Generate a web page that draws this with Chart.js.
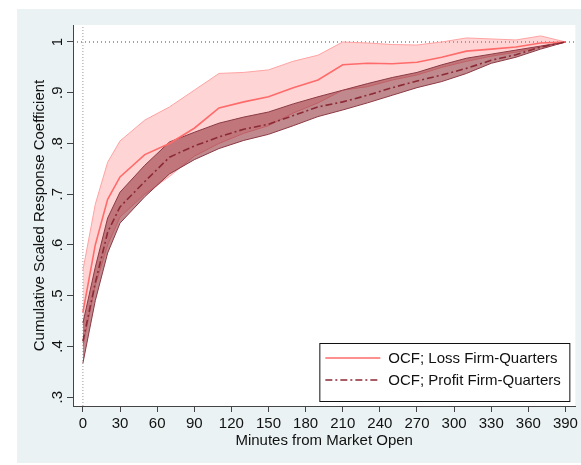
<!DOCTYPE html>
<html>
<head>
<meta charset="utf-8">
<script src="https://cdn.jsdelivr.net/npm/chart.js@4.4.1/dist/chart.umd.min.js"></script>
<style>
  body { margin: 0; background: #fff; }
  canvas { display: block; }
</style>
</head>
<body>
<canvas id="crcChart" width="581" height="465"></canvas>
<script>
// Minutes after the open at which the coefficient was estimated
const minutes = [0, 10, 20, 30, 50, 70, 90, 110, 130, 150, 170, 190, 210, 230, 250, 270, 290, 310, 330, 350, 370, 390];

// Loss firm-quarters: estimate and confidence band
const lossEst = [0.467, 0.600, 0.690, 0.734, 0.778, 0.800, 0.830, 0.870, 0.882, 0.892, 0.910, 0.925, 0.955, 0.958, 0.957, 0.960, 0.970, 0.982, 0.986, 0.990, 0.998, 1.000];
const lossHi  = [0.550, 0.680, 0.763, 0.805, 0.846, 0.872, 0.905, 0.938, 0.940, 0.945, 0.962, 0.974, 1.000, 0.998, 0.995, 0.994, 1.000, 1.008, 1.006, 1.004, 1.012, 1.000];
const lossLo  = [0.400, 0.520, 0.600, 0.655, 0.700, 0.735, 0.775, 0.800, 0.820, 0.835, 0.860, 0.880, 0.905, 0.912, 0.925, 0.935, 0.950, 0.962, 0.972, 0.980, 0.990, 1.000];

// Profit firm-quarters: estimate and confidence band
const profitEst = [0.410, 0.525, 0.625, 0.675, 0.725, 0.773, 0.795, 0.813, 0.828, 0.838, 0.855, 0.872, 0.882, 0.895, 0.910, 0.923, 0.935, 0.948, 0.964, 0.975, 0.990, 1.000];
const profitHi  = [0.446, 0.556, 0.653, 0.704, 0.757, 0.803, 0.822, 0.840, 0.852, 0.862, 0.878, 0.892, 0.905, 0.918, 0.930, 0.940, 0.955, 0.968, 0.976, 0.984, 0.992, 1.000];
const profitLo  = [0.367, 0.490, 0.584, 0.643, 0.695, 0.740, 0.768, 0.790, 0.806, 0.818, 0.835, 0.853, 0.866, 0.880, 0.895, 0.910, 0.922, 0.938, 0.958, 0.970, 0.986, 1.000];

// Axis ticks and reference lines
const xTicks = [0, 30, 60, 90, 120, 150, 180, 210, 240, 270, 300, 330, 360, 390];
const yTicks = [0.3, 0.4, 0.5, 0.6, 0.7, 0.8, 0.9, 1];
const refY = 1;
const refX = 0;

const seriesLabels = ['OCF; Loss Firm-Quarters', 'OCF; Profit Firm-Quarters'];

const X_MIN = -8, X_MAX = 398;
const Y_MIN = 0.2825, Y_MAX = 1.0335;
const FONT = 'Liberation Sans, Arial, Helvetica, sans-serif';

const pts = vals => vals.map((v, i) => ({ x: minutes[i], y: v }));

const LOSS_LINE = '#ff6b6b';
const PROFIT_LINE = '#8b2a35';

// Background: white margin, grey-blue graph region, white plot region
const backdrop = {
    id: 'backdrop',
    beforeDraw(chart) {
        const { ctx, chartArea: a } = chart;
        ctx.save();
        ctx.fillStyle = '#ffffff';
        ctx.fillRect(0, 0, chart.width, chart.height);
        ctx.fillStyle = '#eaf2f3';
        ctx.fillRect(17, 9, chart.width - 17, chart.height - 11);
        ctx.fillStyle = '#ffffff';
        ctx.fillRect(a.left, a.top, a.right - a.left, a.bottom - a.top);
        ctx.restore();
    }
};

// Boxed legend in the lower right corner of the plot region
const boxLegend = {
    id: 'boxLegend',
    afterDraw(chart) {
        const { ctx, chartArea: a } = chart;
        const w = 250, h = 58;
        const x0 = a.right - 6 - w, y0 = a.bottom - 5 - h;
        ctx.save();
        ctx.fillStyle = '#ffffff';
        ctx.fillRect(x0, y0, w, h);
        ctx.strokeStyle = '#111';
        ctx.lineWidth = 1;
        ctx.strokeRect(x0 + 0.5, y0 + 0.5, w, h);

        const rows = [
            { ds: chart.data.datasets[6], y: y0 + 15 },
            { ds: chart.data.datasets[7], y: y0 + 37 }
        ];
        ctx.font = '15px ' + FONT;
        ctx.textBaseline = 'middle';
        rows.forEach((r, i) => {
            ctx.beginPath();
            ctx.strokeStyle = r.ds.borderColor;
            ctx.lineWidth = r.ds.borderWidth;
            ctx.setLineDash(r.ds.borderDash || []);
            ctx.moveTo(x0 + 6, r.y);
            ctx.lineTo(x0 + 61, r.y);
            ctx.stroke();
            ctx.setLineDash([]);
            ctx.fillStyle = '#111';
            ctx.fillText(seriesLabels[i], x0 + 69, r.y + 1);
        });
        ctx.restore();
    }
};

const ctx = document.getElementById('crcChart').getContext('2d');
new Chart(ctx, {
    type: 'line',
    data: {
        datasets: [
            // reference lines
            {
                data: [{ x: X_MIN, y: refY }, { x: X_MAX, y: refY }],
                borderColor: '#444', borderWidth: 1, borderDash: [1, 3], order: 20
            },
            {
                data: [{ x: refX, y: Y_MIN }, { x: refX, y: Y_MAX }],
                borderColor: '#999', borderWidth: 1, borderDash: [1, 2], order: 19
            },
            // loss band
            {
                data: pts(lossHi), borderColor: '#ffa3a3', borderWidth: 1,
                backgroundColor: 'rgba(255, 100, 100, 0.28)', fill: '+1', order: 9
            },
            {
                data: pts(lossLo), borderColor: '#ffa3a3', borderWidth: 1, fill: false, order: 8
            },
            // profit band
            {
                data: pts(profitHi), borderColor: '#8c3a44', borderWidth: 1,
                backgroundColor: 'rgba(140, 40, 50, 0.55)', fill: '+1', order: 7
            },
            {
                data: pts(profitLo), borderColor: '#8c3a44', borderWidth: 1, fill: false, order: 6
            },
            // point estimates
            {
                label: seriesLabels[0], data: pts(lossEst),
                borderColor: LOSS_LINE, borderWidth: 1.6, fill: false, order: 2
            },
            {
                label: seriesLabels[1], data: pts(profitEst),
                borderColor: PROFIT_LINE, borderWidth: 1.6, borderDash: [7, 3, 2, 3], fill: false, order: 1
            }
        ]
    },
    options: {
        responsive: false,
        animation: false,
        events: [],
        elements: { point: { radius: 0 }, line: { tension: 0 } },
        layout: { padding: { top: 25, right: 2, left: 0, bottom: 0 } },
        plugins: {
            legend: { display: false },
            tooltip: { enabled: false }
        },
        scales: {
            x: {
                type: 'linear',
                min: X_MIN,
                max: X_MAX,
                afterBuildTicks: s => { s.ticks = xTicks.map(v => ({ value: v })); },
                afterFit: s => { s.height = 59; },
                grid: { display: true, drawOnChartArea: false, drawTicks: true, tickLength: 6, color: '#444' },
                border: { display: true, color: '#444', width: 1 },
                ticks: {
                    color: '#111', padding: 3, maxRotation: 0, autoSkip: false,
                    font: { family: FONT, size: 15 }
                },
                title: {
                    display: true, text: 'Minutes from Market Open', color: '#111',
                    font: { family: FONT, size: 15 }, padding: { top: 0, bottom: 15 }
                }
            },
            y: {
                type: 'linear',
                min: Y_MIN,
                max: Y_MAX,
                afterBuildTicks: s => { s.ticks = yTicks.map(v => ({ value: v })); },
                afterFit: s => { s.width = 73; },
                grid: { display: true, drawOnChartArea: false, drawTicks: true, tickLength: 6, color: '#444' },
                border: { display: true, color: '#444', width: 1 },
                ticks: {
                    color: '#111', padding: 3, minRotation: 90, maxRotation: 90, crossAlign: 'center',
                    autoSkip: false,
                    font: { family: FONT, size: 15 },
                    callback: v => (v >= 1 ? '1' : v.toFixed(1).replace(/^0/, ''))
                },
                title: {
                    display: true, text: 'Cumulative Scaled Response Coefficient', color: '#111',
                    font: { family: FONT, size: 15 }, padding: { top: 31, bottom: 0 }
                }
            }
        }
    },
    plugins: [backdrop, boxLegend]
});
</script>
</body>
</html>
